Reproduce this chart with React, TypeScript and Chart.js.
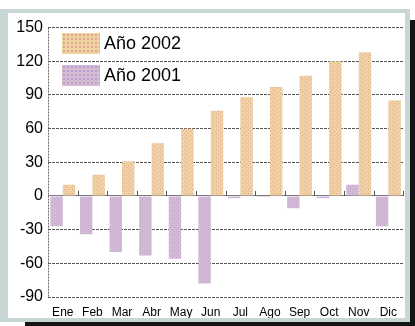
import React, { useEffect, useRef } from "react";
import { Chart, registerables } from "chart.js";

Chart.register(...registerables);

const categories = ["Ene", "Feb", "Mar", "Abr", "May", "Jun", "Jul", "Ago", "Sep", "Oct", "Nov", "Dic"];
const values2002 = [10, 19, 31, 47, 60, 76, 88, 97, 107, 120, 128, 85];
const values2001 = [-27, -34, -50, -53, -56, -78, -2, -1, -11, -2, 10, -27];
const yTicks = [150, 120, 90, 60, 30, 0, -30, -60, -90];
const label2002 = "Año 2002";
const label2001 = "Año 2001";

const TAN = "#ecd39f";
const TAN_DOT = "#e3a595";
const PURPLE = "#d5bad1";
const PURPLE_DOT = "#b2a3d3";

function makePattern(base: string, dot: string): CanvasPattern | string {
  const c = document.createElement("canvas");
  c.width = 4;
  c.height = 4;
  const g = c.getContext("2d");
  if (!g) return base;
  g.fillStyle = base;
  g.fillRect(0, 0, 4, 4);
  g.fillStyle = dot;
  g.fillRect(0, 0, 1, 1);
  g.fillRect(2, 2, 1, 1);
  const p = g.createPattern(c, "repeat");
  return p || base;
}

const zeroTicks = {
  id: "zeroTicks",
  afterDatasetsDraw(chart: any) {
    const xs = chart.scales.x;
    const ys = chart.scales.y;
    const ctx = chart.ctx;
    const y0 = ys.getPixelForValue(0);
    const n = chart.data.labels.length;
    const step = (xs.right - xs.left) / n;
    ctx.save();
    ctx.strokeStyle = "#555";
    ctx.lineWidth = 1;
    ctx.beginPath();
    for (let i = 1; i <= n; i++) {
      const x = Math.round(xs.getPixelForValue(i - 1) + step / 2) + 0.5;
      ctx.moveTo(x, y0);
      ctx.lineTo(x, y0 - 5);
    }
    ctx.stroke();
    // dotted left axis line
    ctx.strokeStyle = "#6a6a6a";
    ctx.setLineDash([2, 1]);
    ctx.beginPath();
    const xl = Math.round(xs.left) + 0.5;
    ctx.moveTo(xl, ys.top);
    ctx.lineTo(xl, ys.bottom);
    ctx.stroke();
    ctx.restore();
  },
};

const FONT = "'Liberation Sans Narrow', 'Liberation Sans', Arial, sans-serif";

export default function App() {
  const ref = useRef<HTMLCanvasElement | null>(null);

  useEffect(() => {
    document.body.style.margin = "0";
    if (!ref.current) return;
    const tanP = makePattern(TAN, TAN_DOT);
    const purP = makePattern(PURPLE, PURPLE_DOT);
    const chart = new Chart(ref.current, {
      type: "bar",
      data: {
        labels: categories,
        datasets: [
          { label: label2001, data: values2001, backgroundColor: purP as any, borderWidth: 0 },
          { label: label2002, data: values2002, backgroundColor: tanP as any, borderWidth: 0 },
        ],
      },
      options: {
        animation: false,
        responsive: false,
        maintainAspectRatio: false,
        layout: { padding: { top: 13, left: 0, right: 0, bottom: 0 } },
        datasets: { bar: { categoryPercentage: 0.84, barPercentage: 1.0 } },
        plugins: { legend: { display: false }, tooltip: { enabled: false } },
        scales: {
          x: {
            grid: { display: false, drawTicks: false },
            border: { display: false },
            ticks: { color: "#000", font: { family: FONT, size: 12 }, padding: 8, maxRotation: 0, autoSkip: false },
            afterFit: (s: any) => { s.height = 21; },
          },
          y: {
            min: -90,
            max: 150,
            afterBuildTicks: (s: any) => { s.ticks = yTicks.map((v) => ({ value: v })); },
            ticks: { color: "#000", font: { family: FONT, size: 16 }, padding: 5 },
            grid: {
              drawTicks: false,
              color: (c: any) => (c.tick && c.tick.value === 0 ? "#7a7a7a" : "#555555"),
              lineWidth: 1,
            },
            border: {
              display: false,
              dash: (c: any) => (c.tick && c.tick.value === 0 ? [] : [3, 1]),
            },
            afterFit: (s: any) => { s.width = 40; },
          },
        },
      },
      plugins: [zeroTicks],
    });
    return () => chart.destroy();
  }, []);

  const legendItems = [
    { label: label2002, base: TAN, dot: TAN_DOT, top: 33 },
    { label: label2001, base: PURPLE, dot: PURPLE_DOT, top: 65 },
  ];

  return (
    <div style={{ position: "fixed", left: 0, top: 0, width: 415, height: 326, background: "#fff", overflow: "hidden" }}>
      <div style={{ position: "absolute", left: 25, top: 20, width: 390, height: 306, background: "#151515" }} />
      <div style={{ position: "absolute", left: 0, top: 9, width: 410, height: 313, background: "#c9d6d6" }} />
      <div style={{ position: "absolute", left: 8, top: 13, width: 397, height: 305, background: "#fff" }}>
        <canvas ref={ref} width={397} height={305} style={{ display: "block", width: 397, height: 305 }} />
      </div>
      {legendItems.map((it) => (
        <div key={it.label} style={{ position: "absolute", left: 62, top: it.top, height: 21, display: "flex", alignItems: "center" }}>
          <div
            style={{
              width: 38,
              height: 21,
              background: it.base,
              backgroundImage: `radial-gradient(${it.dot} 0.8px, transparent 0.9px)`,
              backgroundSize: "4px 4px",
            }}
          />
          <span style={{ marginLeft: 4, font: `18px 'Liberation Sans', Arial, sans-serif`, color: "#000", whiteSpace: "nowrap" }}>
            {it.label}
          </span>
        </div>
      ))}
    </div>
  );
}
